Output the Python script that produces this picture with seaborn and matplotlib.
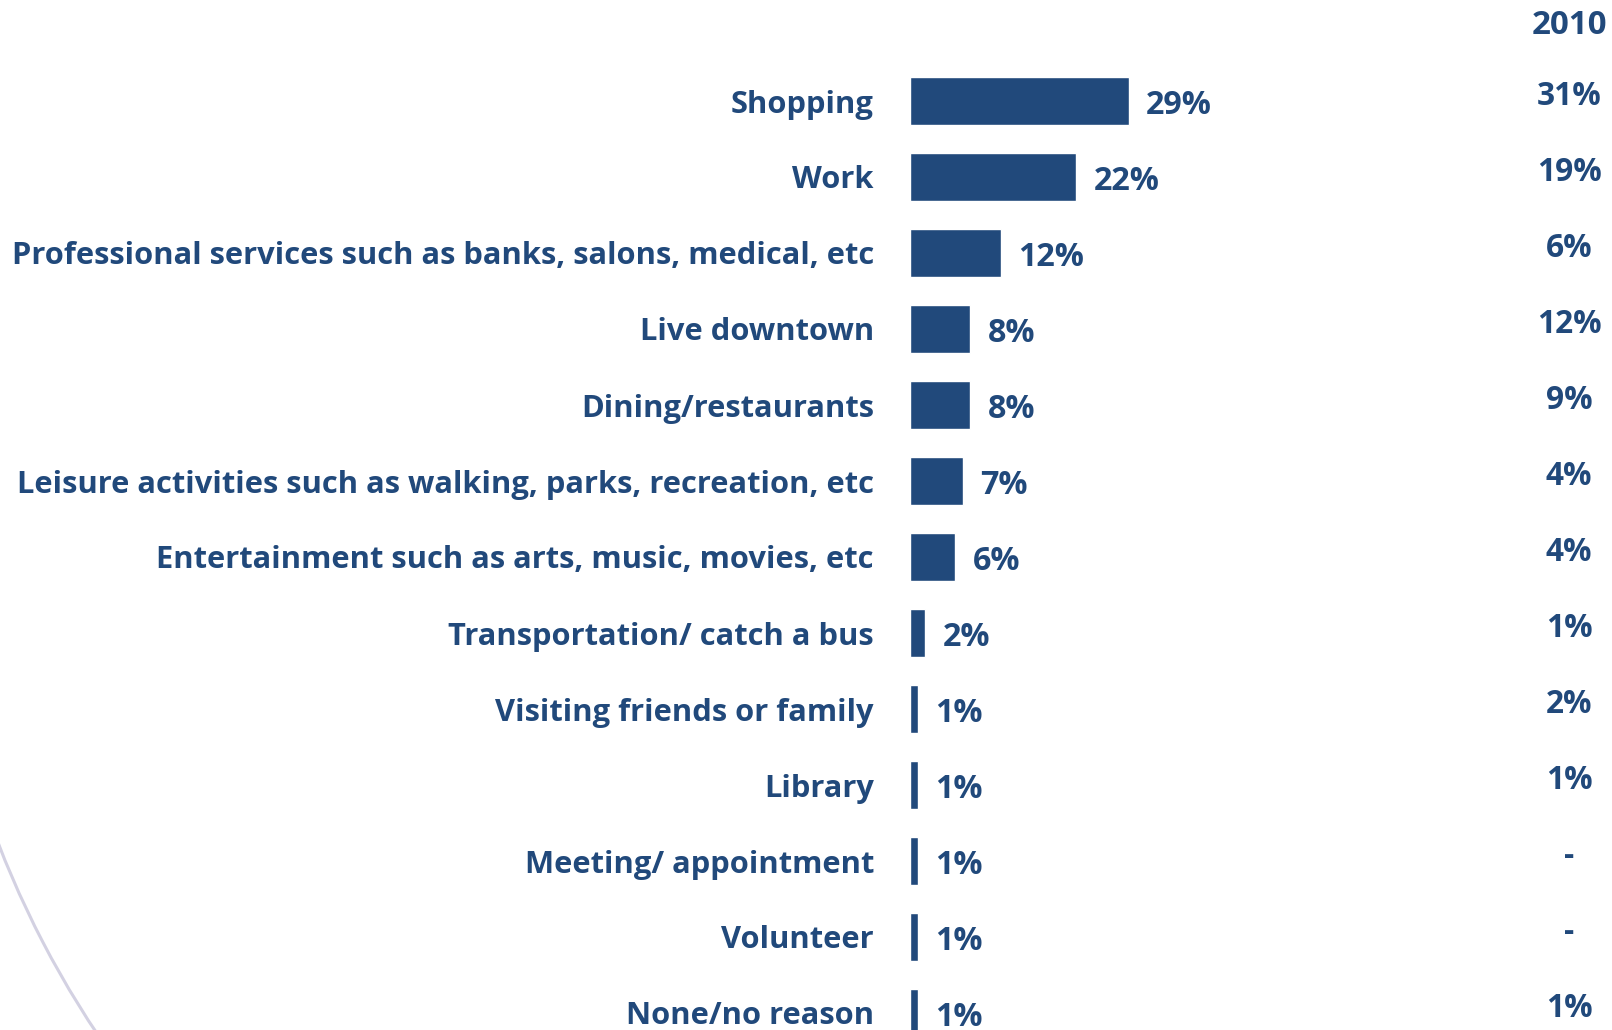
import matplotlib
matplotlib.use("Agg")
import matplotlib.pyplot as plt
from matplotlib.patches import Arc
from matplotlib.transforms import blended_transform_factory
import seaborn as sns
import pandas as pd

# Reasons for coming downtown (current survey) and 2010 comparison
categories = [
    "Shopping",
    "Work",
    "Professional services such as banks, salons, medical, etc",
    "Live downtown",
    "Dining/restaurants",
    "Leisure activities such as walking, parks, recreation, etc",
    "Entertainment such as arts, music, movies, etc",
    "Transportation/ catch a bus",
    "Visiting friends or family",
    "Library",
    "Meeting/ appointment",
    "Volunteer",
    "None/no reason",
]
values = [29, 22, 12, 8, 8, 7, 6, 2, 1, 1, 1, 1, 1]
labels_2010 = ["31%", "19%", "6%", "12%", "9%", "4%", "4%", "1%", "2%", "1%", "-", "-", "1%"]
header_2010 = "2010"

NAVY = "#21497B"
FONT = ["Open Sans", "DejaVu Sans"]
FS_CAT = 22.2
FS_VAL = 23.2
FS_COL = 22.8
FS_HEAD = 23.8

sns.set_theme(style="white")
plt.rcParams["font.family"] = FONT
plt.rcParams["font.weight"] = "bold"

W, H = 1612, 1030
fig = plt.figure(figsize=(W / 100, H / 100), dpi=100)
fig.patch.set_facecolor("white")

# Axes: zero line at x=910px, rows 76px apart starting at y=101px
row_h = 76
top_px = 101 - row_h / 2
bottom_px = top_px + row_h * len(categories)
left_px = 910
ax = fig.add_axes([left_px / W, 1 - bottom_px / H, (W - left_px) / W, (bottom_px - top_px) / H])

df = pd.DataFrame({"reason": categories, "pct": values})
sns.barplot(data=df, x="pct", y="reason", orient="h", color=NAVY,
            saturation=1, width=0.63, ax=ax)
ax.set_xlim(0, (W - left_px) / 7.55)
ax.set_ylim(len(categories) - 0.5, -0.5)
ax.set_xlabel("")
ax.set_ylabel("")
ax.set_xticks([])
for s in ax.spines.values():
    s.set_visible(False)
ax.tick_params(axis="y", length=0, pad=26)
for t in ax.get_yticklabels():
    t.set_fontsize(FS_CAT)
    t.set_fontweight("bold")
    t.set_color(NAVY)
    t.set_family(FONT)

# value labels at bar ends
for i, v in enumerate(values):
    ax.annotate(f"{v}%", xy=(v, i), xytext=(12.5, -3), textcoords="offset points",
                ha="left", va="center", fontsize=FS_VAL, fontweight="bold", color=NAVY,
                annotation_clip=False)

# 2010 comparison column
tr = blended_transform_factory(fig.transFigure, ax.transData)
col_x = 1569 / W
for i, lab in enumerate(labels_2010):
    ax.text(col_x, i - 0.06, lab, transform=tr, ha="center", va="center",
            fontsize=FS_COL, fontweight="bold", color=NAVY, clip_on=False)
fig.text(col_x, 1 - 26 / H, header_2010, ha="center", va="center",
         fontsize=FS_HEAD, fontweight="bold", color=NAVY)

# decorative arc in the lower-left corner
arc = Arc((906, H - 493), 2 * 973, 2 * 973, theta1=199, theta2=216,
          transform=None, color="#D3D1E2", lw=2.2)
fig.patches.append(arc)

fig.savefig("out.png", dpi=100, facecolor="white")
